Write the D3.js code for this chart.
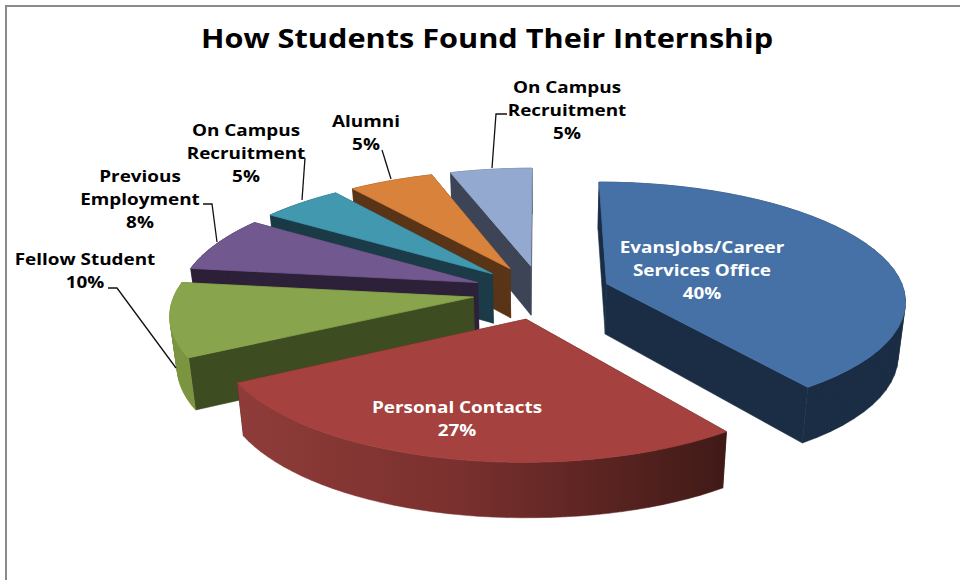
<!DOCTYPE html>
<html lang="en">
<head>
  <meta charset="UTF-8">
  <title>How Students Found Their Internship</title>
  <script src="https://d3js.org/d3.v7.min.js"></script>
  <style>
    html, body { margin: 0; background: #fff; }
    svg { display: block; }
    text { font-family: "Open Sans", sans-serif; font-weight: 700; }
  </style>
</head>
<body>
  <svg width="960" height="580"></svg>

  <script>
    // values (slice widths, the labels are rounded)
    const categories = ["EvansJobs/Career Services Office", "Personal Contacts", "Fellow Student",
                        "Previous Employment", "On Campus Recruitment", "Alumni", "On Campus Recruitment"];
    const percents = [40, 27, 10, 7.5, 5.1, 5.3, 5.1];

    const topColors  = ["#4571a6", "#a5413e", "#88a44c", "#71588f", "#4198af", "#d9823b", "#93a9cf"];
    const wallColors = ["#1a2d45", "url(#redWall)", "#7a9440", "#2d2139", "#1a3b47", "#5a3417", "#3c4456"];
    const cutColors  = ["#1a2d45", "#401a17", "#3e4c22", "#2d2139", "#1a3b47", "#5a3417", "#3c4456"];

    // label text and where it sits
    const labelLines = [
      ["EvansJobs/Career", "Services Office", "40%"],
      ["Personal Contacts", "27%"],
      ["Fellow Student", "10%"],
      ["Previous", "Employment", "8%"],
      ["On Campus", "Recruitment", "5%"],
      ["Alumni", "5%"],
      ["On Campus", "Recruitment", "5%"]
    ];
    const labelPos = [[702, 253], [457, 413], [85, 265], [140, 182], [246, 136], [366, 127], [567, 93]];
    const leaders = [
      null,
      null,
      [[108, 288], [117, 288], [176, 368]],
      [[203, 204], [212, 204], [217, 242]],
      [[305, 158], [302, 200]],
      [[382, 150], [391, 179]],
      [[507, 114], [496, 114], [492, 168]]
    ];

    const svg = d3.select("svg");

    // frame of the chart area, only top and left show
    svg.append("path")
       .attr("d", "M6,580V6H960")
       .attr("fill", "none")
       .attr("stroke", "#8a8a8a")
       .attr("stroke-width", 2);

    // the original text is stretched sideways, so scale x
    svg.append("text")
       .attr("transform", "translate(487,48) scale(1.124,1)")
       .attr("text-anchor", "middle")
       .attr("font-size", 27.3)
       .attr("fill", "#000")
       .text("How Students Found Their Internship");

    const defs = svg.append("defs");
    const grad = defs.append("linearGradient")
       .attr("id", "redWall")
       .attr("gradientUnits", "userSpaceOnUse")
       .attr("x1", 240).attr("y1", 0).attr("x2", 725).attr("y2", 0);
    grad.append("stop").attr("offset", "0%").attr("stop-color", "#8e3c39");
    grad.append("stop").attr("offset", "45%").attr("stop-color", "#7a302e");
    grad.append("stop").attr("offset", "100%").attr("stop-color", "#401a17");

    // perspective view of the pie lying on its ground plane
    const cx = 541.5, cy = 292;
    const radius = 298, explode = 69, depth = 50;
    const tilt = 0.392, camera = 2296, shrink = 0.98;

    function project(X, Y) {
      const k = 1 / (1 + Y / camera);
      return [cx + X * k, cy - tilt * Y * k, k];
    }
    function lower(p) {
      // wall is a little taller on the right hand side
      const extra = Math.max(0, p[0] - cx) * 0.01;
      return [cx + (p[0] - cx) * shrink, p[1] + depth * Math.pow(p[2], 0.6) + extra];
    }

    const pie = d3.pie().value(d => d).sort(null);
    const arcs = pie(percents);
    const line = d3.line();

    // back slices first, the two big front ones last
    const drawOrder = [6, 5, 4, 3, 2, 0, 1];

    drawOrder.forEach(function(i) {
      const d = arcs[i];
      const mid = (d.startAngle + d.endAngle) / 2;
      const ox = explode * Math.sin(mid), oy = explode * Math.cos(mid);

      const rim = d3.range(0, 41).map(function(n) {
        const a = d.startAngle + (d.endAngle - d.startAngle) * n / 40;
        return project(ox + radius * Math.sin(a), oy + radius * Math.cos(a));
      });
      const apex = project(ox, oy);
      const first = rim[0], last = rim[rim.length - 1];
      const g = svg.append("g");

      [first, last].forEach(function(p) {
        g.append("path")
         .attr("d", line([apex, p, lower(p), lower(apex)].map(q => [q[0], q[1]])) + "Z")
         .attr("fill", cutColors[i])
         .attr("stroke", cutColors[i])
         .attr("stroke-width", 0.6);
      });

      // wall as quads all wound the same way, the strip folds at the silhouette
      const wall = d3.pairs(rim).map(function(pair) {
        const quad = [[pair[0][0], pair[0][1]], [pair[1][0], pair[1][1]], lower(pair[1]), lower(pair[0])];
        if (d3.polygonArea(quad) < 0) quad.reverse();
        return line(quad) + "Z";
      }).join("");
      g.append("path")
       .attr("d", wall)
       .attr("fill", wallColors[i])
       .attr("stroke", wallColors[i])
       .attr("stroke-width", 0.5);

      // same colour stroke so the wall does not halo round the top
      g.append("path")
       .attr("d", line([apex].concat(rim).map(q => [q[0], q[1]])) + "Z")
       .attr("fill", topColors[i])
       .attr("stroke", topColors[i])
       .attr("stroke-width", 0.8);
    });

    // leader lines
    leaders.forEach(function(pts) {
      if (!pts) return;
      svg.append("path")
         .attr("d", line(pts))
         .attr("fill", "none")
         .attr("stroke", "#111")
         .attr("stroke-width", 1.3);
    });

    // data labels, white on the two big slices
    labelLines.forEach(function(lines, i) {
      lines.forEach(function(s, j) {
        svg.append("text")
           .attr("transform", "translate(" + labelPos[i][0] + "," + (labelPos[i][1] + j * 23) + ") scale(1.22,1)")
           .attr("text-anchor", "middle")
           .attr("font-size", 15.5)
           .attr("fill", i < 2 ? "#fff" : "#000")
           .text(s);
      });
    });
  </script>
</body>
</html>
